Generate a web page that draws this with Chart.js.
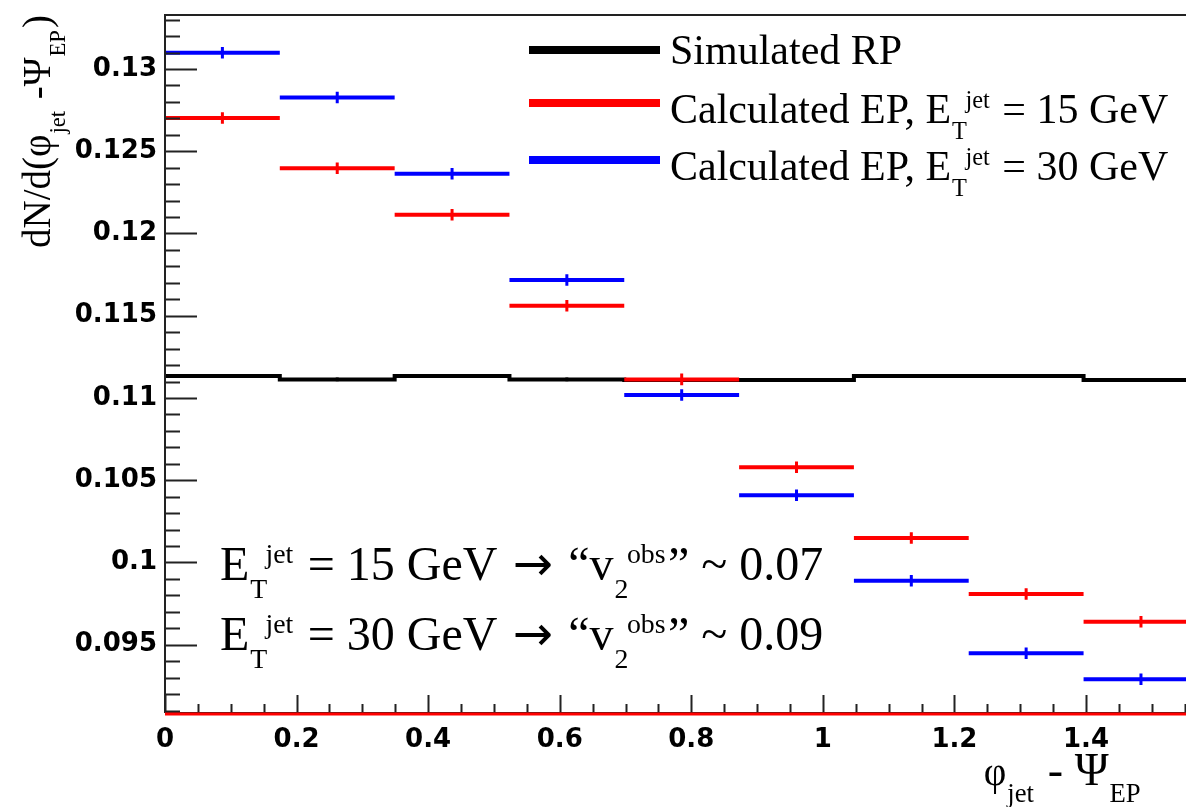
<!DOCTYPE html>
<html lang="en">
<head>
<meta charset="UTF-8">
<title>dN/d(phi_jet - Psi_EP)</title>
<script src="https://cdn.jsdelivr.net/npm/chart.js"></script>
<style>
  html, body { margin: 0; padding: 0; background: #fff; overflow: hidden; }
  canvas { display: block; }
</style>
</head>
<body>
<canvas id="myChart" width="1186" height="807"></canvas>
<script>
    // 9 bins of pi/18 in phi_jet - Psi_EP
    const binEdges = [0, 0.1745, 0.3491, 0.5236, 0.6981, 0.8727, 1.0472, 1.2217, 1.3963, 1.5708];

    const rpValues   = [0.11134, 0.11113, 0.11134, 0.11113, 0.11109, 0.11109, 0.11134, 0.11134, 0.11109];
    const rpErrors   = [0.00012, 0.00012, 0.00012, 0.00012, 0.00012, 0.00012, 0.00012, 0.00012, 0.00012];
    const ep15Values = [0.12702, 0.12396, 0.12114, 0.11561, 0.11113, 0.10579, 0.10149, 0.09808, 0.09640];
    const ep15Errors = [0.00035, 0.00035, 0.00035, 0.00035, 0.00035, 0.00035, 0.00035, 0.00035, 0.00035];
    const ep30Values = [0.13099, 0.12826, 0.12363, 0.11717, 0.11018, 0.10408, 0.09889, 0.09448, 0.09290];
    const ep30Errors = [0.00035, 0.00035, 0.00035, 0.00035, 0.00035, 0.00035, 0.00035, 0.00035, 0.00035];

    const xTickValues = [0, 0.2, 0.4, 0.6, 0.8, 1, 1.2, 1.4];
    const yTickValues = [0.095, 0.1, 0.105, 0.11, 0.115, 0.12, 0.125, 0.13];
    const xRange = [0, 1.552];
    const yRange = [0.09085, 0.13328];
    const xMinorStep = 0.05;
    const yMinorStep = 0.001;

    const RED = '#ff0000', BLUE = '#0000ff', BLACK = '#000000';

    function histPoints(values, connected) {
        const pts = [];
        values.forEach((v, i) => {
            pts.push({ x: binEdges[i], y: v }, { x: binEdges[i + 1], y: v });
            if (!connected) pts.push({ x: binEdges[i + 1], y: null });
        });
        return pts;
    }

    function errorPoints(values, errors) {
        const pts = [];
        values.forEach((v, i) => {
            const c = (binEdges[i] + binEdges[i + 1]) / 2;
            pts.push({ x: c, y: v - errors[i] }, { x: c, y: v + errors[i] }, { x: c, y: null });
        });
        return pts;
    }

    // text with sub/superscripts, like ROOT's TLatex
    function drawRich(ctx, parts, x, y, size, align) {
        const font = (s, f) => s + 'px ' + (f || '"Liberation Serif", "Times New Roman", serif');
        const sc = 0.58;
        const items = [];
        let cx = 0;
        for (const p of parts) {
            if (p.t !== undefined) {
                const s = size * (p.s || 1);
                ctx.font = font(s, p.f);
                items.push({ text: p.t, x: cx, dy: 0, font: font(s, p.f) });
                cx += ctx.measureText(p.t).width;
            } else {
                const s = size * sc;
                ctx.font = font(s);
                let w = 0;
                if (p.sub) {
                    items.push({ text: p.sub, x: cx + 1, dy: size * 0.38, font: font(s) });
                    w = ctx.measureText(p.sub).width + 1;
                }
                if (p.sup) {
                    const off = p.sub ? w * 0.9 : 1;
                    items.push({ text: p.sup, x: cx + off, dy: -size * 0.36, font: font(s) });
                    w = Math.max(w, off + ctx.measureText(p.sup).width);
                }
                cx += w + size * 0.05;
            }
        }
        const x0 = align === 'right' ? x - cx : x;
        ctx.textAlign = 'left';
        ctx.textBaseline = 'alphabetic';
        for (const it of items) {
            ctx.font = it.font;
            ctx.fillText(it.text, x0 + it.x, y + it.dy);
        }
        return cx;
    }

    const legendRows = [
        { color: BLACK, y: 50, base: 64, parts: [{ t: 'Simulated RP' }] },
        { color: RED, y: 103, base: 123, parts: [{ t: 'Calculated EP, E' }, { sub: 'T', sup: 'jet' }, { t: ' = 15 GeV' }] },
        { color: BLUE, y: 160, base: 180, parts: [{ t: 'Calculated EP, E' }, { sub: 'T', sup: 'jet' }, { t: ' = 30 GeV' }] }
    ];

    const ARROW = { t: ' \u2192 ', f: '"DejaVu Sans", sans-serif' };

    const rootStyle = {
        id: 'rootStyle',
        afterDatasetsDraw(chart) {
            const { ctx, chartArea: a, scales: { x, y } } = chart;
            ctx.save();
            ctx.strokeStyle = '#222';
            ctx.lineWidth = 2;
            ctx.beginPath();
            ctx.moveTo(a.left, a.bottom); ctx.lineTo(a.left, a.top); ctx.lineTo(a.right, a.top);
            ctx.moveTo(a.left, a.bottom); ctx.lineTo(a.right, a.bottom);
            ctx.stroke();

            // y ticks (inside)
            ctx.beginPath();
            for (let v = 0.091; v <= yRange[1]; v += yMinorStep) {
                const py = Math.round(y.getPixelForValue(v)) + 0.5;
                const major = yTickValues.some(t => Math.abs(t - v) < 1e-6);
                ctx.moveTo(a.left, py); ctx.lineTo(a.left + (major ? 32 : 15), py);
            }
            // x ticks (inside)
            for (let v = 0; v <= xRange[1]; v += xMinorStep) {
                const px = Math.round(x.getPixelForValue(v)) + 0.5;
                const major = xTickValues.some(t => Math.abs(t - v) < 1e-6);
                ctx.moveTo(px, a.bottom); ctx.lineTo(px, a.bottom - (major ? 18 : 9));
            }
            ctx.stroke();

            // red line along the x axis
            ctx.strokeStyle = RED;
            ctx.lineWidth = 3;
            ctx.beginPath();
            ctx.moveTo(a.left, a.bottom + 1); ctx.lineTo(a.right, a.bottom + 1);
            ctx.stroke();

            // legend
            ctx.fillStyle = BLACK;
            legendRows.forEach(r => {
                ctx.strokeStyle = r.color;
                ctx.lineWidth = 8;
                ctx.beginPath();
                ctx.moveTo(529, r.y); ctx.lineTo(660, r.y);
                ctx.stroke();
                drawRich(ctx, r.parts, 670, r.base, 42);
            });

            // v2 annotation
            drawRich(ctx, [{ t: 'E' }, { sub: 'T', sup: 'jet' }, { t: ' = 15 GeV' }, ARROW, { t: '\u201Cv' }, { sub: '2', sup: 'obs' }, { t: '\u201D ~ 0.07' }], 220, 580, 48);
            drawRich(ctx, [{ t: 'E' }, { sub: 'T', sup: 'jet' }, { t: ' = 30 GeV' }, ARROW, { t: '\u201Cv' }, { sub: '2', sup: 'obs' }, { t: '\u201D ~ 0.09' }], 220, 650, 48);

            // axis titles
            drawRich(ctx, [{ t: '\u03C6', s: 0.85 }, { sub: 'jet' }, { t: ' - ' }, { t: '\u03A8' }, { sub: 'EP' }], 1143, 785, 46, 'right');
            ctx.translate(50, 248);
            ctx.rotate(-Math.PI / 2);
            drawRich(ctx, [{ t: 'dN/d(\u03C6' }, { sub: 'jet' }, { t: ' -\u03A8' }, { sub: 'EP' }, { t: ')' }], 0, 0, 39);
            ctx.restore();
        }
    };

    const tickFont = { family: '"DejaVu Sans", sans-serif', size: 26, weight: 'bold' };

    const ctx = document.getElementById('myChart').getContext('2d');
    const chart = new Chart(ctx, {
        type: 'line',
        data: {
            datasets: [
                { label: 'Simulated RP', data: histPoints(rpValues, true), borderColor: BLACK, borderWidth: 4, order: 4 },
                { label: 'rp err', data: errorPoints(rpValues, rpErrors), borderColor: BLACK, borderWidth: 3, order: 4 },
                { label: 'Calculated EP, 30 GeV', data: histPoints(ep30Values, false), borderColor: BLUE, borderWidth: 4, order: 2 },
                { label: 'ep30 err', data: errorPoints(ep30Values, ep30Errors), borderColor: BLUE, borderWidth: 3, order: 2 },
                { label: 'Calculated EP, 15 GeV', data: histPoints(ep15Values, false), borderColor: RED, borderWidth: 4, order: 1 },
                { label: 'ep15 err', data: errorPoints(ep15Values, ep15Errors), borderColor: RED, borderWidth: 3, order: 1 }
            ]
        },
        options: {
            responsive: false,
            animation: false,
            spanGaps: false,
            layout: { padding: { top: 15, right: 0, left: 0, bottom: 0 } },
            elements: { point: { radius: 0 }, line: { tension: 0, borderCapStyle: 'butt' } },
            plugins: { legend: { display: false }, tooltip: { enabled: false } },
            scales: {
                x: {
                    type: 'linear',
                    min: xRange[0],
                    max: xRange[1],
                    grid: { display: false, drawTicks: false },
                    border: { display: false },
                    afterBuildTicks: s => { s.ticks = xTickValues.map(v => ({ value: v })); },
                    afterFit: s => { s.height = 94; s.paddingLeft = 0; s.paddingRight = 0; },
                    ticks: {
                        autoSkip: false, maxRotation: 0, padding: 12, color: '#000', font: tickFont,
                        callback: v => String(+Number(v).toFixed(2))
                    }
                },
                y: {
                    type: 'linear',
                    min: yRange[0],
                    max: yRange[1],
                    grid: { display: false, drawTicks: false },
                    border: { display: false },
                    afterBuildTicks: s => { s.ticks = yTickValues.map(v => ({ value: v })); },
                    afterFit: s => { s.width = 165; s.paddingTop = 0; s.paddingBottom = 0; },
                    ticks: {
                        autoSkip: false, padding: 8, color: '#000', font: tickFont,
                        callback: v => String(+Number(v).toFixed(3))
                    }
                }
            }
        },
        plugins: [rootStyle]
    });
</script>
</body>
</html>
